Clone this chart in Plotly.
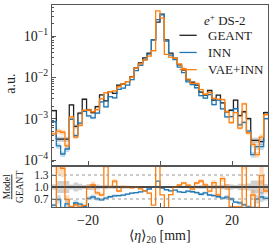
import numpy as np
import plotly.graph_objects as go

# ---------------- data ----------------
x_min, x_max, n_bins = -30.0, 30.0, 50

geant = [1.56e-3, 3.2e-4, 3.2e-4, 3.2e-4, 2.15e-3, 6.5e-4, 1.37e-3, 2.95e-3, 1.63e-3, 1.40e-3,
         1.95e-3, 3.75e-3, 2.69e-3, 4.5e-3, 4.1e-3, 6.5e-3, 6.9e-3, 7.9e-3, 1.04e-2, 1.69e-2,
         2.23e-2, 2.95e-2, 3.84e-2, 8.05e-2, 0.216, 0.337, 8.05e-2, 3.84e-2, 2.9e-2, 2.0e-2,
         1.5e-2, 8.7e-3, 7.6e-3, 6.5e-3, 4.4e-3, 3.7e-3, 4.8e-3, 2.8e-3, 3.7e-3, 2.4e-3,
         1.47e-3, 1.6e-3, 2.8e-3, 1.18e-3, 1.47e-3, 1.0e-3, 3.0e-4, 3.0e-4, 2.8e-4, 1.4e-3]

inn = [8.5e-4, 2.2e-4, 1.4e-4, 1.85e-4, 9.7e-4, 3.9e-4, 7.8e-4, 1.5e-3, 1.17e-3, 1.05e-3,
       1.37e-3, 2.55e-3, 1.94e-3, 3.4e-3, 3.2e-3, 5.1e-3, 5.5e-3, 6.5e-3, 8.8e-3, 1.45e-2,
       1.96e-2, 2.66e-2, 3.65e-2, 8.05e-2, 0.248, 0.327, 7.5e-2, 3.46e-2, 2.67e-2, 1.76e-2,
       1.3e-2, 7.8e-3, 6.7e-3, 5.6e-3, 3.6e-3, 3.15e-3, 3.84e-3, 2.2e-3, 2.8e-3, 1.73e-3,
       1.1e-3, 1.12e-3, 1.74e-3, 7.1e-4, 8.1e-4, 5.0e-4, 1.35e-4, 2.1e-4, 2.1e-4, 1.0e-3]

vae_inn = [4.3e-4, 5.0e-4, 4.7e-4, 2.2e-4, 1.1e-3, 3.6e-4, 6.9e-4, 1.6e-3, 1.63e-3, 1.47e-3,
           1.66e-3, 3.0e-3, 4.2e-3, 4.5e-3, 4.7e-3, 5.85e-3, 6.9e-3, 7.9e-3, 1.02e-2, 1.69e-2,
           2.12e-2, 2.66e-2, 3.26e-2, 4.4e-2, 0.405, 0.27, 3.6e-2, 3.1e-2, 2.9e-2, 2.1e-2,
           1.65e-2, 9.1e-3, 7.2e-3, 7.15e-3, 5.06e-3, 3.9e-3, 4.3e-3, 3.1e-3, 2.96e-3, 2.9e-3,
           1.47e-3, 8.0e-4, 1.4e-3, 5.9e-4, 2.28e-3, 4.5e-4, 2.4e-4, 1.35e-4, 3.6e-4, 1.26e-3]

# relative statistical uncertainty per bin (band half-width)
band_rel = [0.07, 0.15, 0.15, 0.15, 0.06, 0.11, 0.08, 0.05, 0.07, 0.08,
            0.065, 0.045, 0.055, 0.04, 0.045, 0.035, 0.035, 0.03, 0.028, 0.022,
            0.019, 0.016, 0.014, 0.01, 0.006, 0.005, 0.01, 0.014, 0.016, 0.02,
            0.023, 0.03, 0.032, 0.035, 0.042, 0.046, 0.04, 0.053, 0.046, 0.057,
            0.073, 0.07, 0.053, 0.08, 0.073, 0.09, 0.16, 0.16, 0.17, 0.075]

series_names = ["GEANT", "INN", "VAE+INN"]
main_ticks = [1e-4, 1e-3, 1e-2, 1e-1]
main_ticktext = ["10<sup>−4</sup>", "10<sup>−3</sup>", "10<sup>−2</sup>", "10<sup>−1</sup>"]
ratio_ticks = [0.7, 1.0, 1.3]
ratio_ticktext = ["0.7", "1.0", "1.3"]
x_ticks = [-20, 0, 20]
x_ticktext = ["−20", "0", "20"]

# ---------------- styling ----------------
FONT = "Liberation Serif"
colors = {"GEANT": "#222222", "INN": "#1f77b4", "VAE+INN": "#ff7f0e"}
bands = {"GEANT": "rgba(120,120,120,0.35)", "INN": "rgba(31,119,180,0.25)",
         "VAE+INN": "rgba(255,127,14,0.28)"}
FRAME = "#555555"

edges = np.linspace(x_min, x_max, n_bins + 1)
g = np.array(geant)
data = {"GEANT": g, "INN": np.array(inn), "VAE+INN": np.array(vae_inn)}
rel = np.array(band_rel)


def step_xy(vals):
    vals = np.asarray(vals, dtype=float)
    return edges, np.append(vals, vals[-1])


fig = go.Figure()

for name in series_names:
    v = data[name]
    for ya, top, bot in [("y", v * (1 + rel), v * (1 - rel)),
                         ("y2", v * (1 + rel) / g, v * (1 - rel) / g)]:
        xa = "x" if ya == "y" else "x2"
        xs, yt = step_xy(top)
        _, yb = step_xy(bot)
        fig.add_trace(go.Scatter(x=xs, y=yt, mode="lines", line=dict(width=0, shape="hv"),
                                 yaxis=ya, xaxis=xa, showlegend=False, hoverinfo="skip"))
        fig.add_trace(go.Scatter(x=xs, y=yb, mode="lines", line=dict(width=0, shape="hv"),
                                 fill="tonexty", fillcolor=bands[name],
                                 yaxis=ya, xaxis=xa, showlegend=False, hoverinfo="skip"))

for name in series_names:
    v = data[name]
    xs, ys = step_xy(v)
    fig.add_trace(go.Scatter(x=xs, y=ys, mode="lines",
                             line=dict(color=colors[name], width=1.3, shape="hv"),
                             xaxis="x", yaxis="y", showlegend=False))
    xs, yr = step_xy(v / g)
    fig.add_trace(go.Scatter(x=xs, y=yr, mode="lines",
                             line=dict(color=colors[name], width=1.3, shape="hv"),
                             xaxis="x2", yaxis="y2", showlegend=False))

# ratio reference lines
for yv, col, dash, w in [(1.3, "#999999", "dot", 1), (0.7, "#999999", "dot", 1),
                         (1.0, "#444444", "solid", 1.3)]:
    fig.add_shape(type="line", xref="x2 domain", yref="y2", x0=0, x1=1, y0=yv, y1=yv,
                  line=dict(color=col, width=w, dash=dash))

# legend (custom, matplotlib-like)
fig.add_annotation(xref="paper", yref="paper", x=0.80, y=0.925,
                   text="<i>e</i><sup>+</sup> DS-2",
                   showarrow=False, font=dict(family=FONT, size=13, color="#222"),
                   xanchor="center", yanchor="middle")
leg_y = [0.85, 0.765, 0.68]
for name, ly in zip(series_names, leg_y):
    fig.add_shape(type="line", xref="paper", yref="paper", x0=0.59, x1=0.67, y0=ly, y1=ly,
                  line=dict(color=colors[name], width=1.3))
    fig.add_annotation(xref="paper", yref="paper", x=0.715, y=ly, text=name, showarrow=False,
                       font=dict(family=FONT, size=13, color="#222"),
                       xanchor="left", yanchor="middle")

# y titles
fig.add_annotation(xref="paper", yref="paper", x=-0.19, y=0.61, text="a.u.", textangle=-90,
                   showarrow=False, xanchor="center", yanchor="middle",
                   font=dict(family=FONT, size=14, color="#222"))
fig.add_annotation(xref="paper", yref="paper", x=-0.18, y=0.1,
                   text="<span style='text-decoration:underline'>Model</span><br>GEANT",
                   textangle=-90, showarrow=False, xanchor="center", yanchor="middle",
                   font=dict(family=FONT, size=9.5, color="#222"))

axis_common = dict(showline=True, linecolor=FRAME, linewidth=1.2, mirror=True,
                   ticks="inside", tickcolor=FRAME, showgrid=False, zeroline=False,
                   automargin=False,
                   tickfont=dict(family=FONT, size=14, color="#222"))

fig.update_layout(
    width=274, height=247,
    margin=dict(l=52, r=6, t=5, b=40, autoexpand=False),
    paper_bgcolor="white", plot_bgcolor="white",
    showlegend=False,
    xaxis=dict(range=[x_min, x_max], domain=[0, 1], anchor="y", tickvals=x_ticks,
               showticklabels=False, ticklen=4, **axis_common),
    xaxis2=dict(range=[x_min, x_max], domain=[0, 1], anchor="y2", tickvals=x_ticks,
                ticktext=x_ticktext, ticklen=4, matches="x",
                title=dict(text="⟨<i>η</i>⟩<sub>20</sub> [mm]", standoff=2,
                           font=dict(family=FONT, size=14, color="#222")),
                **axis_common),
    yaxis=dict(type="log", range=[-4.12, -0.25], domain=[0.208, 1], anchor="x",
               tickvals=main_ticks, ticktext=main_ticktext, ticklen=4,
               minor=dict(ticks="inside", ticklen=2, tickcolor=FRAME, dtick="D1"),
               **axis_common),
    yaxis2=dict(range=[0.5, 1.5], domain=[0, 0.198], anchor="x2",
                tickvals=ratio_ticks, ticktext=ratio_ticktext, ticklen=4,
                **{**axis_common, "tickfont": dict(family=FONT, size=11.5, color="#222")}),
)

fig.write_html("out.html", config={"displayModeBar": False},
               post_script="document.body.style.margin='0';document.body.style.padding='0';"
                           "document.body.style.overflow='hidden';")
